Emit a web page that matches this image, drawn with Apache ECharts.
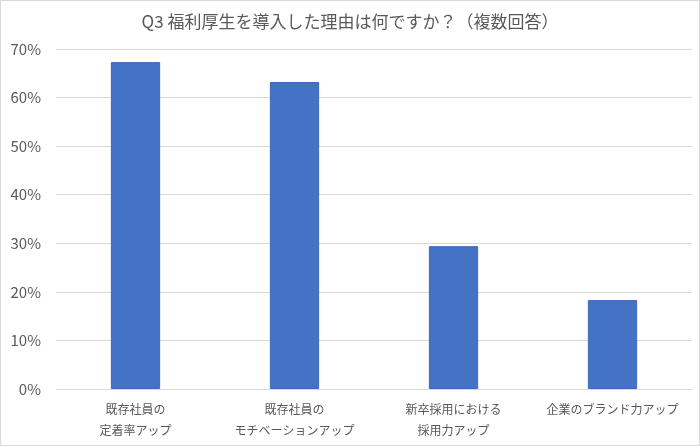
<!DOCTYPE html>
<html><head><meta charset="utf-8">
<script src="https://cdn.jsdelivr.net/npm/echarts@6/dist/echarts.min.js"></script>
<style>html,body{margin:0;padding:0;background:#fff}#c{width:700px;height:446px;box-sizing:border-box;border:1px solid #d9d9d9}</style>
</head><body><div id="c"></div>
<script>
const title = 'Q3 福利厚生を導入した理由は何ですか？（複数回答）';
const categories = ['既存社員の\n定着率アップ','既存社員の\nモチベーションアップ','新卒採用における\n採用力アップ','企業のブランド力アップ'];
const values = [67.3, 63.2, 29.4, 18.3];
const yTicks = [0,10,20,30,40,50,60,70];
const font = '"Noto Sans CJK JP","Noto Sans",sans-serif';
const chart = echarts.init(document.getElementById('c'));
chart.setOption({
  animation:false,
  title:{text:title,left:'center',top:7,textStyle:{fontFamily:font,fontSize:17,fontWeight:'normal',color:'#595959'}},
  grid:{left:55,right:7,top:48,bottom:56},
  xAxis:{type:'category',data:categories,axisTick:{show:false},
    axisLine:{lineStyle:{color:'#d9d9d9'}},
    axisLabel:{interval:0,fontFamily:font,fontSize:12,color:'#595959',lineHeight:21,margin:10}},
  yAxis:{type:'value',min:yTicks[0],max:yTicks[yTicks.length-1],interval:10,
    axisLabel:{formatter:'{value}%',fontFamily:font,fontSize:15,color:'#595959',margin:15},
    splitLine:{lineStyle:{color:'#d9d9d9'}},axisLine:{show:false},axisTick:{show:false}},
  series:[{type:'bar',data:values,barWidth:'31%',itemStyle:{color:'#4472c4',borderColor:'#3d69b8',borderWidth:1}}]
});
</script></body></html>
